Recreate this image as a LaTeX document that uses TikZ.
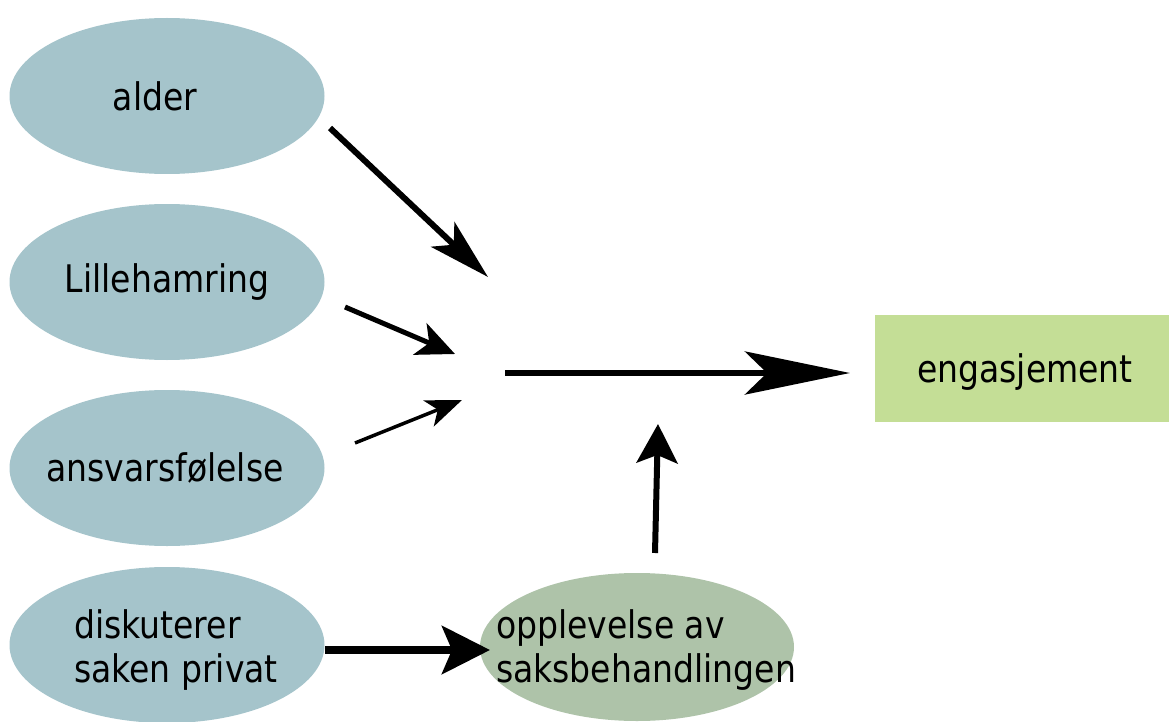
\documentclass[tikz,border=0pt]{standalone}
\usepackage{fontspec}
\setmainfont[FakeStretch=0.87]{DejaVu Sans}
\usetikzlibrary{shapes.geometric,arrows.meta}

\definecolor{graablaa}{RGB}{165,196,203}
\definecolor{salvie}{RGB}{174,195,169}
\definecolor{lysgronn}{RGB}{196,222,150}

\tikzset{
  boble/.style={ellipse, minimum width=315pt, minimum height=156pt, inner sep=0pt},
  tekst/.style={font=\fontsize{38}{44}\selectfont, align=left, inner sep=0pt},
}

\begin{document}
\begin{tikzpicture}[x=1pt,y=-1pt]
        \useasboundingbox (0,0) rectangle (1169,722);
        % Bobler til venstre
        \node[boble, fill=graablaa] (alder) at (167,96) {};
        \node[boble, fill=graablaa] (lille) at (167,282) {};
        \node[boble, fill=graablaa] (ansvar) at (167,468) {};
        \node[boble, fill=graablaa] (privat) at (167,645) {};
        \node[boble, fill=salvie, minimum width=314pt, minimum height=148pt] (opplev) at (637,647) {};
        % Boks
        \node[fill=lysgronn, minimum width=294pt, minimum height=107pt, inner sep=0pt] (eng) at (1022,368.5) {};
        % Tekster
        \node[tekst] at (155,96) {alder};
        \node[tekst] at (167,282) {Lillehamring};
        \node[tekst] at (165,468) {ansvarsfølelse};
        \node[tekst] at (176,650) {diskuterer\\saken privat};
        \node[tekst] at (646,650) {opplevelse av\\saksbehandlingen};
        \node[tekst] at (1025,372) {engasjement};
        % Piler
        \coordinate (a1) at (330,128);  \coordinate (b1) at (488,277);
        \coordinate (a2) at (345,307);  \coordinate (b2) at (455,354);
        \coordinate (a3) at (355,443);  \coordinate (b3) at (462,400);
        \coordinate (a4) at (505,373);  \coordinate (b4) at (850,373);
        \coordinate (a5) at (655,553);  \coordinate (b5) at (658,424);
        \coordinate (a6) at (325,650);  \coordinate (b6) at (490,650);
        \draw[line width=6pt, -{Stealth[length=62pt,width=34pt,inset=15pt]}] (a1) -- (b1);
        \draw[line width=5pt, -{Stealth[length=38pt,width=34pt,inset=10pt]}] (a2) -- (b2);
        \draw[line width=3.5pt, -{Stealth[length=36pt,width=28pt,inset=10pt]}] (a3) -- (b3);
        \draw[line width=6.5pt, -{Stealth[length=105pt,width=43pt,inset=22pt]}] (a4) -- (b4);
        \draw[line width=6pt, -{Stealth[length=39pt,width=41pt,inset=8pt]}] (a5) -- (b5);
        \draw[line width=8pt, -{Stealth[length=48pt,width=48pt,inset=10pt]}] (a6) -- (b6);
    \end{tikzpicture}
\end{document}
